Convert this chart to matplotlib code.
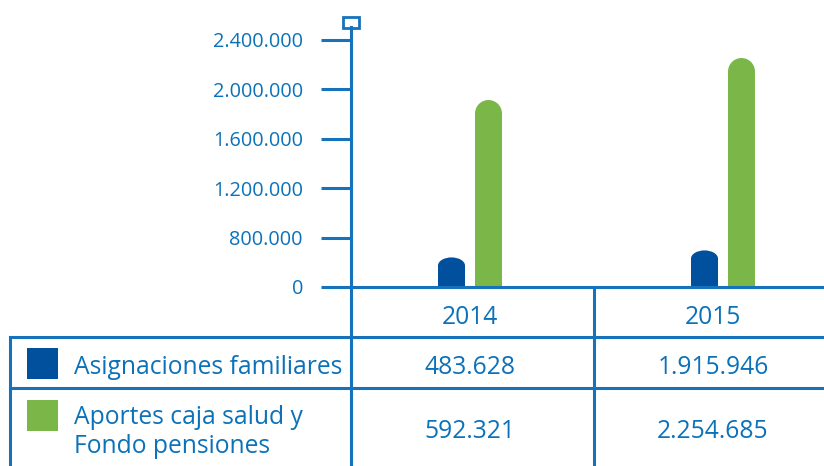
import matplotlib.pyplot as plt
from matplotlib.patches import Rectangle
from matplotlib.path import Path
from matplotlib.transforms import Affine2D

plt.rcParams['font.family'] = ['Open Sans', 'DejaVu Sans']

# datos
years = ['2014', '2015']
series = ['Asignaciones familiares', 'Aportes caja salud y\nFondo pensiones']
asignaciones = [483628, 1915946]
aportes = [592321, 2254685]
yticks = [0, 800000, 1200000, 1600000, 2000000, 2400000]

# en el original las barras de cada año salen de las filas de la tabla
bar_blue = [asignaciones[0], aportes[0]]
bar_green = [asignaciones[1], aportes[1]]

TXT = '#0b72b9'
LINE = '#1673bb'
BLUE = '#00509e'
GREEN = '#7ab648'
W, H = 824, 466


# eje y: 0-800.000 en el primer tramo, luego 400.000 por tramo
def fwd(v):
    import numpy as np
    v = np.asarray(v, dtype=float)
    return np.where(v <= 800000, v / 800000, 1 + (v - 800000) / 400000)


def inv(u):
    import numpy as np
    u = np.asarray(u, dtype=float)
    return np.where(u <= 1, u * 800000, 800000 + (u - 1) * 400000)


fig = plt.figure(figsize=(W / 100, H / 100), dpi=100)

# capa para la tabla, en pixeles
tab = fig.add_axes([0, 0, 1, 1])
tab.set_xlim(0, W)
tab.set_ylim(H, 0)
tab.axis('off')

ax = fig.add_axes([351 / W, 1 - 287 / H, (W - 351) / W, (287 - 27) / H])
ax.set_yscale('function', functions=(fwd, inv))
ax.set_ylim(0, inv(5.26))
ax.set_xlim(-0.47, 1.40)
ax.patch.set_alpha(0)

for s in ['top', 'right']:
    ax.spines[s].set_visible(False)
for s in ['left', 'bottom']:
    ax.spines[s].set_color(LINE)
    ax.spines[s].set_linewidth(2.2)

ax.set_yticks(yticks)
ax.set_yticklabels(['0' if t == 0 else f'{t:,}'.replace(',', '.') for t in yticks])
ax.tick_params(axis='y', length=21.6, width=2.2, color=LINE, pad=13,
               labelsize=14.3, labelcolor=TXT)
ax.set_xticks([])
ax.minorticks_off()

# barras con punta redondeada
x = [0, 1]
off = 0.073
bw = 0.107
px_unit = 49.4
ell = Path.unit_circle().transformed(Affine2D().scale(1, 0.6))
for vals, col, dx, r_px, marker in [(bar_blue, BLUE, -off, 8, ell),
                                    (bar_green, GREEN, off, 13.5, 'o')]:
    r = r_px / px_unit
    tops = [float(inv(fwd(v) - r)) for v in vals]
    xs = [xi + dx for xi in x]
    ax.bar(xs, tops, width=bw, color=col, zorder=2)
    ax.plot(xs, tops, ls='none', marker=marker, ms=19.4, mfc=col, mec='none',
            zorder=2)

# cuadrito al final del eje
tab.add_patch(Rectangle((343, 17), 16, 11, fc='white', ec=LINE, lw=2, zorder=5))

# tabla
lw = 2.2
tab.plot([10, W], [337, 337], color=LINE, lw=lw)
tab.plot([10, W], [388, 388], color=LINE, lw=lw)
tab.plot([10, 10], [337, H], color=LINE, lw=lw)
tab.plot([351, 351], [287, H], color=LINE, lw=lw)
tab.plot([594, 594], [287, H], color=LINE, lw=lw)

col_x = [470, 713]
for cx, yr in zip(col_x, years):
    tab.text(cx, 317, yr, ha='center', va='center', fontsize=17.7, color=TXT)

row_y = [367, 432]
for ry, name, col, vals in zip(row_y, series, [BLUE, GREEN],
                               [asignaciones, aportes]):
    sq_y = 348 if ry == row_y[0] else 400
    tab.add_patch(Rectangle((27, sq_y), 31, 31, fc=col, ec='none'))
    tab.text(74, ry, name, ha='left', va='center', fontsize=17.7, color=TXT,
             linespacing=1.25)
    for cx, v in zip(col_x, vals):
        tab.text(cx, ry, f'{v:,}'.replace(',', '.'), ha='center', va='center',
                 fontsize=17.7, color=TXT)

fig.savefig('out.png', dpi=100)
